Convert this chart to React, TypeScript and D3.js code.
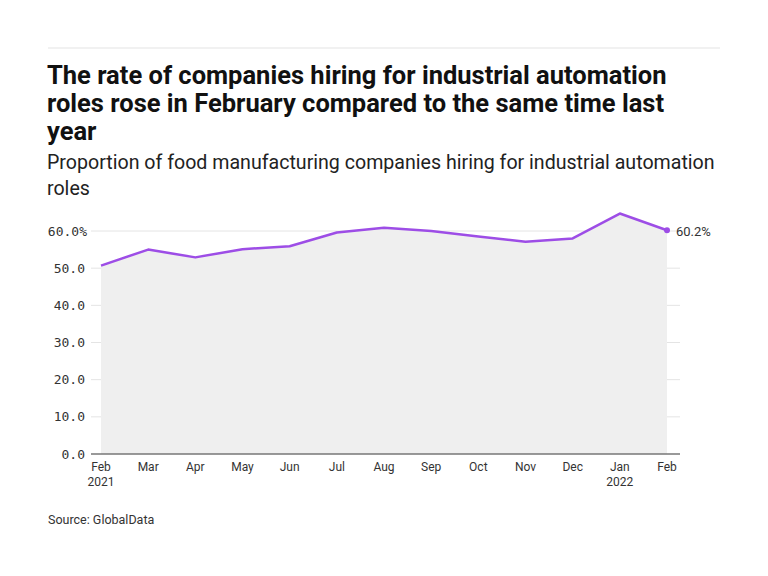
import React, { useEffect, useRef } from "react";
import * as d3 from "d3";

const months = ["Feb", "Mar", "Apr", "May", "Jun", "Jul", "Aug", "Sep", "Oct", "Nov", "Dec", "Jan", "Feb"];
const years = ["2021", "", "", "", "", "", "", "", "", "", "", "2022", ""];
const values = [50.7, 55.0, 52.9, 55.1, 55.9, 59.6, 60.9, 60.0, 58.5, 57.1, 58.0, 64.7, 60.2];
const yTicks = [0, 10, 20, 30, 40, 50, 60];

const titleLines = [
    "The rate of companies hiring for industrial automation",
    "roles rose in February compared to the same time last",
    "year",
];
const subtitleLines = [
    "Proportion of food manufacturing companies hiring for industrial automation",
    "roles",
];

const W = 768;
const H = 576;
const purple = "#9d4de6";

const App = () => {
    const svgRef = useRef(null);

    useEffect(() => {
        document.body.style.margin = "0";
        const svg = d3.select(svgRef.current);
        svg.selectAll("*").remove();

        const sans = "Roboto, 'Noto Sans', sans-serif";
        const mono = "'DejaVu Sans Mono', 'Liberation Mono', monospace";

        // top rule
        svg.append("line")
            .attr("x1", 48).attr("x2", 720)
            .attr("y1", 48).attr("y2", 48)
            .attr("stroke", "#e3e3e3").attr("stroke-width", 1);

        svg.append("g")
            .selectAll("text")
            .data(titleLines)
            .enter()
            .append("text")
            .attr("x", 47)
            .attr("y", (_d, i) => 84 + i * 28)
            .attr("font-family", sans)
            .attr("font-weight", 700)
            .attr("font-size", 25.5)
            .attr("fill", "#111")
            .text((d) => d);

        svg.append("g")
            .selectAll("text")
            .data(subtitleLines)
            .enter()
            .append("text")
            .attr("x", 47)
            .attr("y", (_d, i) => 169 + i * 26)
            .attr("font-family", sans)
            .attr("font-size", 19.6)
            .attr("fill", "#222")
            .text((d) => d);

        const x = d3.scaleLinear().domain([0, months.length - 1]).range([101, 667]);
        const y = d3.scaleLinear().domain([0, 60]).range([454, 231]);

        // gridlines
        svg.append("g")
            .selectAll("line")
            .data(yTicks.filter((t) => t > 0))
            .enter()
            .append("line")
            .attr("x1", 91).attr("x2", 680)
            .attr("y1", (d) => y(d)).attr("y2", (d) => y(d))
            .attr("stroke", "#e4e4e4").attr("stroke-width", 1);

        // area
        const area = d3.area<number>()
            .x((_d, i) => x(i))
            .y0(y(0))
            .y1((d) => y(d));
        svg.append("path")
            .datum(values)
            .attr("d", area)
            .attr("fill", "#efefef");

        // baseline
        svg.append("line")
            .attr("x1", 91).attr("x2", 680)
            .attr("y1", y(0)).attr("y2", y(0))
            .attr("stroke", "#777").attr("stroke-width", 1.5);

        // y labels
        svg.append("g")
            .selectAll("text")
            .data(yTicks)
            .enter()
            .append("text")
            .attr("x", (d) => (d === 60 ? 87 : 85))
            .attr("y", (d) => y(d) + 4.5)
            .attr("text-anchor", "end")
            .attr("font-family", mono)
            .attr("font-size", 13)
            .attr("fill", "#333")
            .text((d) => d.toFixed(1) + (d === 60 ? "%" : ""));

        // x labels
        const xl = svg.append("g")
            .selectAll("g")
            .data(months)
            .enter()
            .append("g")
            .attr("transform", (_d, i) => `translate(${x(i)},0)`);
        xl.append("text")
            .attr("y", 471)
            .attr("text-anchor", "middle")
            .attr("font-family", sans)
            .attr("font-size", 12)
            .attr("fill", "#333")
            .text((d) => d);
        xl.append("text")
            .attr("y", 486)
            .attr("text-anchor", "middle")
            .attr("font-family", sans)
            .attr("font-size", 12)
            .attr("fill", "#333")
            .text((_d, i) => years[i]);

        // line
        const line = d3.line<number>()
            .x((_d, i) => x(i))
            .y((d) => y(d));
        svg.append("path")
            .datum(values)
            .attr("d", line)
            .attr("fill", "none")
            .attr("stroke", purple)
            .attr("stroke-width", 2.5)
            .attr("stroke-linejoin", "round");

        const last = values.length - 1;
        svg.append("circle")
            .attr("cx", x(last))
            .attr("cy", y(values[last]))
            .attr("r", 3)
            .attr("fill", purple);
        svg.append("text")
            .attr("x", x(last) + 9)
            .attr("y", y(values[last]) + 6)
            .attr("font-family", sans)
            .attr("font-size", 13)
            .attr("fill", "#333")
            .text(values[last].toFixed(1) + "%");

        svg.append("text")
            .attr("x", 48)
            .attr("y", 524)
            .attr("font-family", sans)
            .attr("font-size", 12.5)
            .attr("fill", "#333")
            .text("Source: GlobalData");
    }, []);

    return <svg ref={svgRef} width={W} height={H} style={{ display: "block", background: "#fff" }}></svg>;
};

export default App;
